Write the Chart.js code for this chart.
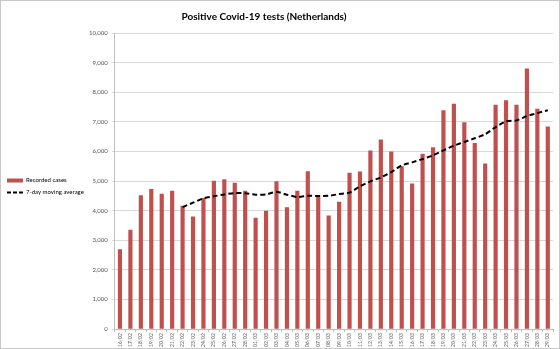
<!DOCTYPE html>
<html>
<head>
<meta charset="utf-8">
<script src="https://cdn.jsdelivr.net/npm/chart.js@4/dist/chart.umd.min.js"></script>
<style>
  html, body { margin: 0; padding: 0; background: #fff; }
  #wrap { width: 560px; height: 349px; box-sizing: border-box; border: 1px solid #c8c8c8; position: relative; }
</style>
</head>
<body>
<div id="wrap"><canvas id="covidChart"></canvas></div>
<script>
var days = ["16/02", "17/02", "18/02", "19/02", "20/02", "21/02", "22/02", "23/02", "24/02", "25/02",
  "26/02", "27/02", "28/02", "01/03", "02/03", "03/03", "04/03", "05/03", "06/03", "07/03",
  "08/03", "09/03", "10/03", "11/03", "12/03", "13/03", "14/03", "15/03", "16/03", "17/03",
  "18/03", "19/03", "20/03", "21/03", "22/03", "23/03", "24/03", "25/03", "26/03", "27/03",
  "28/03", "29/03"];

var recordedCases = [2700, 3360, 4520, 4730, 4575, 4675, 4170, 3800, 4425, 5010,
  5065, 4945, 4675, 3765, 4000, 4990, 4120, 4675, 5330, 4525,
  3840, 4305, 5285, 5320, 6035, 6405, 5995, 5500, 4915, 5925,
  6140, 7390, 7615, 6985, 6285, 5590, 7580, 7725, 7580, 8805,
  7445, 6840];

var movingAverage = [null, null, null, null, null, null, 4120, 4270, 4415, 4485,
  4550, 4595, 4590, 4540, 4550, 4640, 4540, 4460, 4505, 4495,
  4505, 4560, 4610, 4820, 4990, 5125, 5305, 5530, 5630, 5745,
  5870, 6035, 6195, 6320, 6445, 6580, 6825, 7015, 7050, 7195,
  7295, 7390];

var yTicks = [0, 1000, 2000, 3000, 4000, 5000, 6000, 7000, 8000, 9000, 10000];

var FONT = "Lato, 'Liberation Sans', sans-serif";

// small position tweaks after Chart.js has laid out the boxes
var nudge = {
  id: "nudge",
  afterLayout: function (chart) {
    if (chart.titleBlock) chart.titleBlock.right -= 26;
    if (chart.legend) {
      chart.legend.top += 12;
      chart.legend.bottom += 12;
    }
  }
};

var ctx = document.getElementById("covidChart").getContext("2d");
var covidChart = new Chart(ctx, {
  data: {
    labels: days,
    datasets: [
      {
        type: "bar",
        label: "Recorded cases",
        data: recordedCases,
        backgroundColor: "#c0504d",
        barPercentage: 0.4,
        categoryPercentage: 1,
        order: 2
      },
      {
        type: "line",
        label: "7-day moving average",
        data: movingAverage,
        borderColor: "#000000",
        borderWidth: 2,
        borderDash: [5, 3],
        pointRadius: 0,
        tension: 0.2,
        fill: false,
        order: 1
      }
    ]
  },
  plugins: [nudge],
  options: {
    responsive: true,
    maintainAspectRatio: false,
    animation: false,
    layout: { padding: { top: 0, right: 6, bottom: 0, left: 0 } },
    plugins: {
      tooltip: { enabled: false },
      title: {
        display: true,
        text: "Positive Covid-19 tests (Netherlands)",
        color: "#000",
        font: { family: FONT, size: 10, weight: "bold" },
        padding: { top: 10, bottom: 10 }
      },
      legend: {
        position: "left",
        maxWidth: 84,
        labels: {
          color: "#333",
          font: { family: FONT, size: 6 },
          usePointStyle: true,
          pointStyleWidth: 16,
          boxHeight: 6,
          padding: 6,
          generateLabels: function (chart) {
            return chart.data.datasets.map(function (ds, i) {
              var isLine = ds.type === "line";
              return {
                text: ds.label,
                datasetIndex: i,
                fillStyle: isLine ? "rgba(0,0,0,0)" : ds.backgroundColor,
                strokeStyle: isLine ? ds.borderColor : ds.backgroundColor,
                lineWidth: isLine ? 2 : 4,
                lineDash: isLine ? [4, 2] : [],
                pointStyle: "line",
                hidden: false
              };
            });
          }
        }
      }
    },
    scales: {
      x: {
        grid: { display: true, drawOnChartArea: false, color: "#bfbfbf", tickLength: 3 },
        border: { color: "#bfbfbf" },
        ticks: {
          autoSkip: false,
          minRotation: 90,
          maxRotation: 90,
          padding: 1,
          color: "#555",
          font: { family: FONT, size: 5 }
        }
      },
      y: {
        min: 0,
        max: 10000,
        afterBuildTicks: function (scale) {
          scale.ticks = yTicks.map(function (v) { return { value: v }; });
        },
        grid: { color: "#d9d9d9", lineWidth: 1, tickLength: 3 },
        border: { color: "#bfbfbf" },
        ticks: {
          padding: 4,
          color: "#555",
          font: { family: FONT, size: 6 },
          callback: function (v) { return v.toLocaleString("en-US"); }
        }
      }
    }
  }
});
</script>
</body>
</html>
